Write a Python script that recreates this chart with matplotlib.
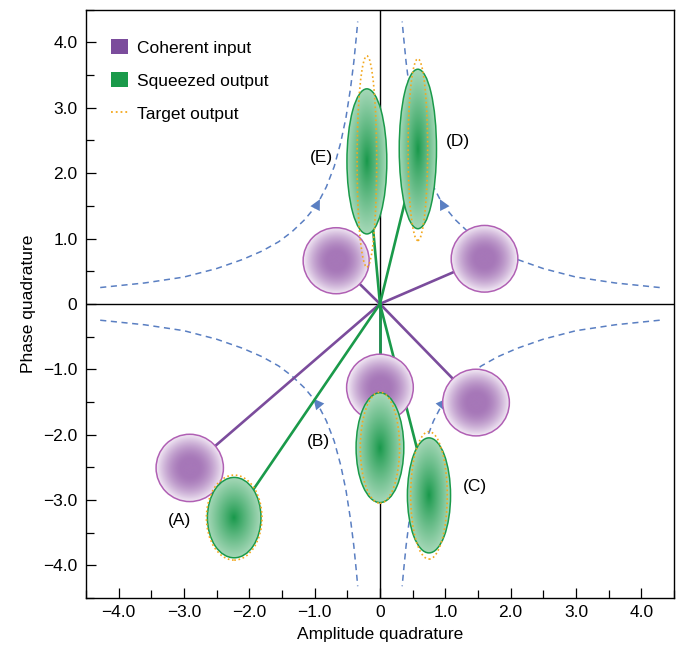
import numpy as np
import matplotlib.pyplot as plt
from matplotlib.patches import Ellipse, Patch
from matplotlib.lines import Line2D
from matplotlib.colors import to_rgb

plt.rcParams['font.family'] = ['Liberation Sans', 'DejaVu Sans']

# Coherent input states (circles): centre x, centre y, diameter
coh_x = [-2.91, 0.0, 1.47, 1.60, -0.67]
coh_y = [-2.51, -1.28, -1.51, 0.69, 0.66]
coh_d = [1.03, 1.02, 1.02, 1.02, 1.01]

# Squeezed output states (ellipses): centre, width, height
sq_x = [-2.23, 0.0, 0.75, 0.58, -0.20]
sq_y = [-3.27, -2.20, -2.93, 2.37, 2.18]
sq_w = [0.82, 0.73, 0.66, 0.57, 0.61]
sq_h = [1.23, 1.68, 1.76, 2.44, 2.22]

# Target output states (dotted ellipses)
tg_x = [-2.23, 0.0, 0.75, 0.58, -0.20]
tg_y = [-3.27, -2.20, -2.93, 2.36, 2.18]
tg_w = [0.85, 0.60, 0.56, 0.30, 0.30]
tg_h = [1.30, 1.70, 1.95, 2.78, 3.23]

labels = ['(A)', '(B)', '(C)', '(D)', '(E)']
lab_x = [-3.07, -0.94, 1.46, 1.20, -0.90]
lab_y = [-3.31, -2.10, -2.80, 2.48, 2.24]

# dashed flow curves, magnitudes (mirrored into each quadrant)
curve_x = [4.28, 3.60, 3.00, 2.50, 2.10, 1.80, 1.55, 1.35, 1.15, 0.96, 0.82, 0.70,
           0.60, 0.52, 0.45, 0.40, 0.36, 0.34]
curve_y = [0.25, 0.32, 0.41, 0.54, 0.68, 0.81, 0.95, 1.10, 1.29, 1.52, 1.79, 2.10,
           2.47, 2.85, 3.30, 3.70, 4.10, 4.32]
quad_sx = [-1, 1, -1, 1]
quad_sy = [1, 1, -1, -1]
quad_flow = [1, 1, -1, -1]   # +1: arrow toward the steep end, -1: toward the flat end
arrow_idx = 9

ticks = [-4, -3, -2, -1, 0, 1, 2, 3, 4]
tick_labels = ['\u22124.0', '\u22123.0', '\u22122.0', '\u22121.0', '0', '1.0', '2.0', '3.0', '4.0']

purple = '#7b4c9c'
purple_edge = '#b060b4'
green = '#1a9a4a'
orange = '#f3a81e'
blue = '#5a7fc2'


def blob(ax, cx, cy, w, h, c_in, c_out, ec, power, start, z):
    e = Ellipse((cx, cy), w, h, facecolor='none', edgecolor=ec, lw=1.1, zorder=z + 0.1)
    ax.add_patch(e)
    n = 200
    xs = np.linspace(-1, 1, n)
    X, Y = np.meshgrid(xs, xs)
    r = np.sqrt(X ** 2 + Y ** 2)
    t = np.clip((r - start) / (1 - start), 0, 1) ** power
    a = np.array(to_rgb(c_in))
    b = np.array(to_rgb(c_out))
    img = a[None, None, :] * (1 - t[..., None]) + b[None, None, :] * t[..., None]
    im = ax.imshow(img, extent=[cx - w / 2, cx + w / 2, cy - h / 2, cy + h / 2],
                   origin='lower', zorder=z, interpolation='bilinear')
    clip = Ellipse((cx, cy), w, h, transform=ax.transData)
    im.set_clip_path(clip)


fig = plt.figure(figsize=(6.8, 6.5), dpi=100)
ax = fig.add_axes([0.1235, 0.08, 0.8705, 0.905])

ax.axhline(0, color='black', lw=1, zorder=1)
ax.axvline(0, color='black', lw=1, zorder=1)

for k in range(4):
    xs = [quad_sx[k] * v for v in curve_x]
    ys = [quad_sy[k] * v for v in curve_y]
    ax.plot(xs, ys, color=blue, lw=1.1, ls=(0, (4, 3)), zorder=1.5)
    j = arrow_idx
    j2 = j + quad_flow[k]
    ax.annotate('', xy=(xs[j] + (xs[j2] - xs[j]) * 0.3, ys[j] + (ys[j2] - ys[j]) * 0.3),
                xytext=(xs[j], ys[j]),
                arrowprops=dict(arrowstyle='-|>', color=blue, lw=0, mutation_scale=19,
                                shrinkA=0, shrinkB=0), zorder=1.6)

for i in range(5):
    ax.plot([0, coh_x[i]], [0, coh_y[i]], color=purple, lw=1.9, zorder=2)
    ax.plot([0, sq_x[i]], [0, sq_y[i]], color=green, lw=1.9, zorder=2.1)

for i in range(5):
    blob(ax, coh_x[i], coh_y[i], coh_d[i], coh_d[i], '#a677b8', '#f4ecf6', purple_edge, 1.6, 0.25, 3)
for i in range(5):
    blob(ax, sq_x[i], sq_y[i], sq_w[i], sq_h[i], '#17984a', '#a6d8b8', green, 0.9, 0.0, 4)
for i in range(5):
    ax.add_patch(Ellipse((tg_x[i], tg_y[i]), tg_w[i], tg_h[i], facecolor='none',
                         edgecolor=orange, lw=1.2, ls=(0, (1, 1.6)), zorder=5))

for i in range(5):
    ax.text(lab_x[i], lab_y[i], labels[i], fontsize=12.5, ha='center', va='center', zorder=6)

ax.set_xlim(-4.5, 4.5)
ax.set_ylim(-4.5, 4.5)
ax.set_xticks(ticks)
ax.set_xticklabels(tick_labels)
ax.set_yticks(ticks)
ax.set_yticklabels(tick_labels)
ax.set_xticks(np.arange(-4.5, 4.6, 0.5), minor=True)
ax.set_yticks(np.arange(-4.5, 4.6, 0.5), minor=True)
ax.tick_params(which='both', direction='in', labelsize=12.5, pad=6, width=0.9)
ax.tick_params(which='major', length=7)
ax.tick_params(which='minor', length=6)
ax.tick_params(axis='x', pad=5)
for s in ax.spines.values():
    s.set_linewidth(1.0)
ax.set_xlabel('Amplitude quadrature', fontsize=12.5, labelpad=5)
ax.set_ylabel('Phase quadrature', fontsize=12.5, labelpad=5)

handles = [Patch(facecolor=purple, edgecolor='none'),
           Patch(facecolor=green, edgecolor='none'),
           Line2D([], [], color=orange, ls=':', lw=1.3)]
ax.legend(handles, ['Coherent input', 'Squeezed output', 'Target output'],
          loc='upper left', bbox_to_anchor=(0.043, 0.95), frameon=False, fontsize=12.5,
          handlelength=0.95, handleheight=0.95, handletextpad=0.55, labelspacing=0.95,
          borderpad=0, borderaxespad=0)

fig.savefig('out.png', dpi=100)
